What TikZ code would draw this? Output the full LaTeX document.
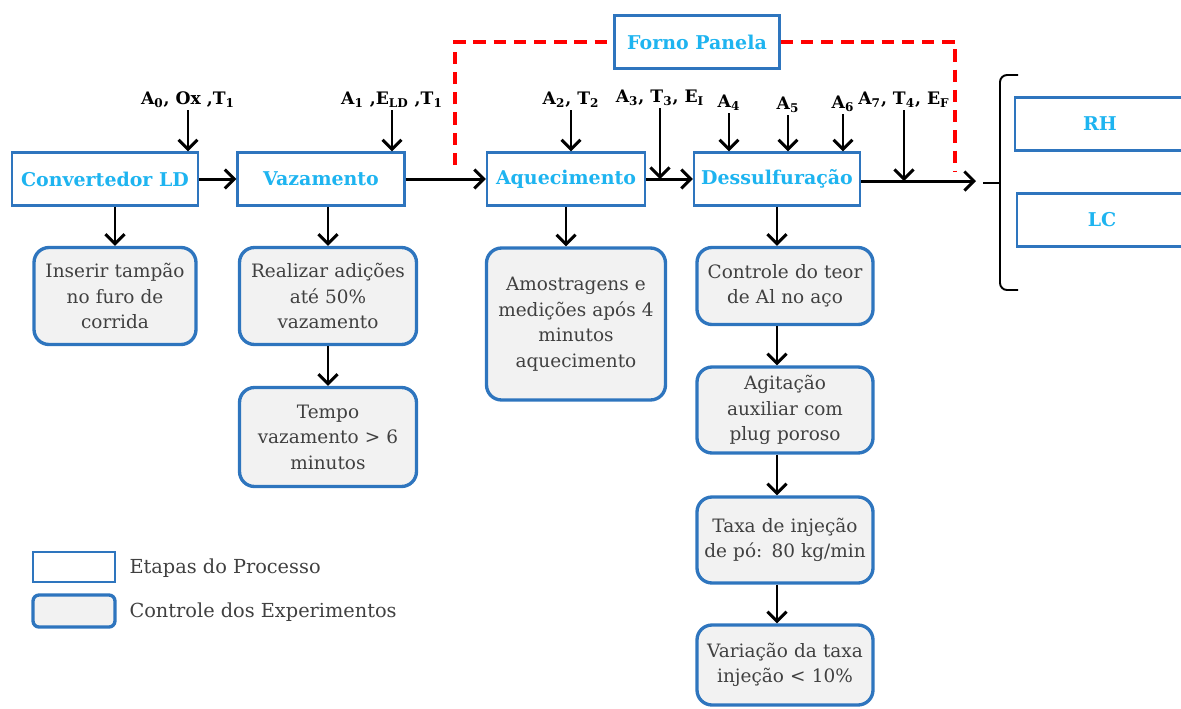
\documentclass[tikz,border=0pt]{standalone}
\usepackage{fontspec}
\setmainfont{DejaVu Serif}
\usetikzlibrary{arrows.meta,positioning}
\definecolor{azulborda}{RGB}{46,117,190}
\definecolor{azultexto}{RGB}{30,180,240}
\definecolor{cinzafundo}{RGB}{242,242,242}
\definecolor{cinzatexto}{RGB}{64,64,64}

\begin{document}
\begin{tikzpicture}[x=0.02cm, y=-0.02cm, thick,
  seta/.style={-{Straight Barb[length=1.9mm,width=3.8mm]}, line width=1.7pt},
  etapa/.style={draw=azulborda, line width=1.3pt, fill=white, text=azultexto, font=\bfseries\fontsize{10.8}{13}\selectfont, minimum height=1.06cm},
  controle/.style={draw=azulborda, line width=1.9pt, fill=cinzafundo, rounded corners=0.3cm, text=cinzatexto, align=center, font=\fontsize{10.5}{14.5}\selectfont, inner sep=2pt},
  entrada/.style={font=\bfseries\fontsize{9.8}{11}\selectfont, inner sep=1pt},
  legenda/.style={text=cinzatexto, font=\fontsize{11}{13}\selectfont, anchor=west},
  forno/.style={draw=red, dash pattern=on 7pt off 4.5pt, line width=2.2pt}]
\useasboundingbox (0,0) rectangle (1181,708);
\clip (0,0) rectangle (1181,708);

% etapas do processo
\node[etapa, minimum width=3.72cm] (conv) at (105,179) {Convertedor LD};
\node[etapa, minimum width=3.34cm] (vaz) at (321,179) {Vazamento};
\node[etapa, minimum width=3.16cm] (aq) at (566,179) {Aquecimento};
\node[etapa, minimum width=3.32cm] (des) at (777,179) {Dessulfuração};
\node[etapa, minimum width=3.3cm] (fp) at (697,42) {Forno Panela};
\node[etapa, minimum width=3.4cm] (rh) at (1100,124) {RH};
\node[etapa, minimum width=3.4cm] (lc) at (1102,220) {LC};

% controles
\node[controle, text width=3.1cm, minimum height=1.94cm] (ins) at (115,296) {Inserir tampão\\no furo de\\corrida};
\node[controle, text width=3.4cm, minimum height=1.94cm] (rea) at (328,296) {Realizar adições\\até 50\%\\vazamento};
\node[controle, text width=3.4cm, minimum height=1.98cm] (tem) at (328,437) {Tempo\\vazamento > 6\\minutos};
\node[controle, text width=3.44cm, minimum height=3.04cm] (amo) at (576,324) {Amostragens e\\medições após 4\\minutos\\aquecimento};
\node[controle, text width=3.38cm, minimum height=1.54cm] (teor) at (785,286) {Controle do teor\\de Al no aço};
\node[controle, text width=3.38cm, minimum height=1.72cm] (agi) at (785,410) {Agitação\\auxiliar com\\plug poroso};
\node[controle, text width=3.38cm, minimum height=1.72cm] (taxa) at (785,540) {Taxa de injeção\\de pó: 80 kg/min};
\node[controle, text width=3.38cm, minimum height=1.6cm] (var) at (785,665) {Variação da taxa\\injeção < 10\%};

% entradas
\node[entrada] (e0) at (188,100) {A\textsubscript{0}, Ox ,T\textsubscript{1}};
\node[entrada] (e1) at (392,100) {A\textsubscript{1} ,E\textsubscript{LD} ,T\textsubscript{1}};
\node[entrada] (e2) at (571,100) {A\textsubscript{2}, T\textsubscript{2}};
\node[entrada] (e3) at (660,98) {A\textsubscript{3}, T\textsubscript{3}, E\textsubscript{I}};
\node[entrada] (e4) at (729,103) {A\textsubscript{4}};
\node[entrada] (e5) at (788,105) {A\textsubscript{5}};
\node[entrada] (e6) at (843,104) {A\textsubscript{6}};
\node[entrada] (e7) at (904,100) {A\textsubscript{7}, T\textsubscript{4}, E\textsubscript{F}};
\coordinate (fim) at (976,181);

% fluxo principal
\draw[seta] (conv) -- (vaz);
\draw[seta] (vaz) -- (aq);
\draw[seta] (aq) -- (des);
\draw[seta] (des.east |- fim) -- (fim);
\foreach \e/\b in {e0/conv, e1/vaz, e2/aq, e4/des, e5/des, e6/des}
  \draw[seta] (\e.south) -- (\e.south |- \b.north);
\draw[seta] (e3.south) -- (e3.south |- aq.east);
\draw[seta] (e7.south) -- (e7.south |- fim);

% controles
\draw[seta] (conv.south -| ins) -- (ins);
\draw[seta] (vaz.south -| rea) -- (rea);
\draw[seta] (rea) -- (tem);
\draw[seta] (aq.south) -- (aq.south |- amo.north);
\draw[seta] (des.south) -- (des.south |- teor.north);
\draw[seta] (teor.south -| des) -- (agi.north -| des);
\draw[seta] (agi.south -| des) -- (taxa.north -| des);
\draw[seta] (taxa.south -| des) -- (var.north -| des);

% forno panela
\draw[forno] (455,165) -- (455,42) -- (fp.west);
\draw[forno] (fp.east) -- (955,42) -- (955,172);

% chave
\draw[line width=1.1pt, rounded corners=4pt] (1018,75) -- (1000,75) -- (1000,290) -- (1018,290);
\draw[line width=1.1pt] (983,183) -- (1000,183);

% legenda
\node[etapa, line width=1.1pt, minimum width=1.64cm, minimum height=0.6cm] (leg1) at (74,567) {};
\node[controle, minimum width=1.64cm, minimum height=0.64cm, rounded corners=0.12cm] (leg2) at (74,611) {};
\node[legenda] (t1) at (123,568) {Etapas do Processo};
\node[legenda] (t2) at (123,612) {Controle dos Experimentos};
\end{tikzpicture}
\end{document}
